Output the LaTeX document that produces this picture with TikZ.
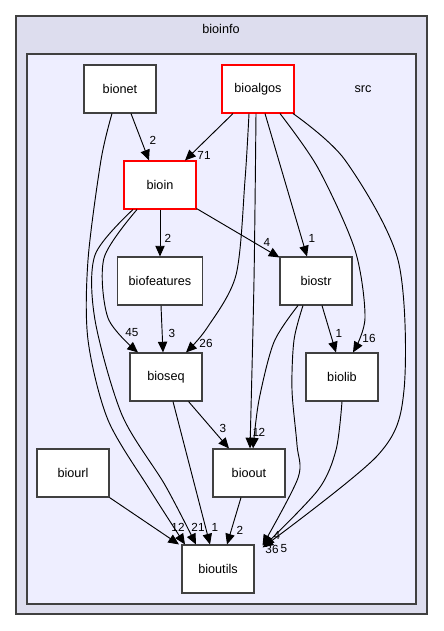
\documentclass[tikz,border=0pt]{standalone}
\usepackage{fontspec}
\setmainfont{Liberation Sans}
\usetikzlibrary{arrows.meta,calc}
\definecolor{outerfill}{HTML}{DDDDEE}
\definecolor{innerfill}{HTML}{EEEEFF}
\definecolor{frame}{HTML}{404040}
\begin{document}
\begin{tikzpicture}[x=0.75pt,y=-0.75pt,
  box/.style={draw=frame,fill=white,line width=0.8pt,minimum width=54pt,minimum height=36pt,inner sep=0pt,font=\fontsize{9.5}{11}\selectfont},
  redbox/.style={box,draw=red},
  edge/.style={line width=0.7pt,-{Triangle[length=8pt,width=7pt]}},
  lbl/.style={font=\fontsize{8.8}{10}\selectfont,inner sep=0pt}]
\useasboundingbox (0,0) rectangle (443,631);
\draw[frame,fill=outerfill,line width=0.9pt] (16,16) rectangle (427,614);
\draw[frame,fill=innerfill,line width=0.9pt] (27,54) rectangle (416,604);
\node[font=\fontsize{9.5}{11}\selectfont] (tbioinfo) at (221,29) {bioinfo};
\node[font=\fontsize{9.5}{11}\selectfont] (tsrc) at (363,89) {src};
% nodes
\node[box] (bionet) at (120,89) {bionet};
\node[redbox] (bioalgos) at (258,89) {bioalgos};
\node[redbox] (bioin) at (160,185) {bioin};
\node[box,minimum width=63.75pt] (biofeatures) at (160,281) {biofeatures};
\node[box] (biostr) at (316,281) {biostr};
\node[box] (bioseq) at (166,377) {bioseq};
\node[box] (biolib) at (342,377) {biolib};
\node[box] (biourl) at (73,473) {biourl};
\node[box] (bioout) at (249,473) {bioout};
\node[box] (bioutils) at (218,569) {bioutils};
% edges
\draw[edge] ($(bionet.south)+(11,0)$) -- ($(bioin.north)+(-11,0)$);
\node[lbl] (l1) at (153,140) {2};
\draw[edge] plot[smooth] coordinates {($(bionet.south)+(-8,0)$) (101,160) (88,260) (88,340) (108,420) (150,490) ($(bioutils.north)+(-33,0)$)};
\draw[edge] ($(bioalgos.south)+(-25,0)$) -- ($(bioin.north)+(25,0)$);
\node[lbl] (l3) at (204,155) {71};
\draw[edge] plot[smooth] coordinates {($(bioalgos.south)+(-9,0)$) (245,180) (236,275) (207,328) ($(bioseq.north)+(20,0)$)};
\node[lbl] (l4) at (206,343) {26};
\draw[edge] plot[smooth] coordinates {($(bioalgos.south)+(-2,0)$) (254,280) ($(bioout.north)+(1,0)$)};
\node[lbl] (l5) at (256,432) {1};
\draw[edge] ($(bioalgos.south)+(7,0)$) -- ($(biostr.north)+(-9,0)$);
\node[lbl] (l6) at (312,238) {1};
\draw[edge] plot[smooth] coordinates {($(bioalgos.south)+(22,0)$) (318,168) (355,250) (365,318) ($(biolib.north)+(11,0)$)};
\node[lbl] (l7) at (369,338) {16};
\draw[edge] plot[smooth] coordinates {($(bioalgos.south)+(35,0)$) (345,160) (398,260) (404,390) (378,455) ($(bioutils.north east)+(8,3)$)};
\draw[edge] (bioin.south) -- (biofeatures.north);
\node[lbl] (l9) at (168,238) {2};
\draw[edge] ($(bioin.south east)+(0,-1)$) -- ($(biostr.north west)+(0,1)$);
\node[lbl] (l10) at (267,242) {4};
\draw[edge] plot[smooth] coordinates {($(bioin.south)+(-23,0)$) (104,258) (108,318) ($(bioseq.north)+(-28,0)$)};
\node[lbl] (l11) at (132,333) {45};
\draw[edge] plot[smooth] coordinates {($(bioin.south)+(-27,0)$) (95,255) (95,320) (122,415) (165,485) ($(bioutils.north)+(-22,0)$)};
\node[lbl] (l12) at (198,527) {21};
\draw[edge] ($(biofeatures.south)+(1,0)$) -- ($(bioseq.north)+(-3,0)$);
\node[lbl] (l13) at (172,333) {3};
\draw[edge] ($(biostr.south)+(6,0)$) -- ($(biolib.north)+(-6,0)$);
\node[lbl] (l14) at (339,333) {1};
\draw[edge] plot[smooth] coordinates {($(biostr.south)+(-18,0)$) (274,342) (259,400) ($(bioout.north)+(4,0)$)};
\node[lbl] (l15) at (262,432) {2};
\draw[edge] plot[smooth] coordinates {($(biostr.south)+(-13,0)$) (294,340) (292,390) (297,445) (298,478) ($(bioutils.north east)+(8,1)$)};
\node[lbl] (l16) at (277,535) {4};
\draw[edge] plot[smooth] coordinates {(biolib.south) (336,450) (318,490) ($(bioutils.north east)+(9,2)$)};
\node[lbl] (l17) at (272,549) {36};
\node[lbl] (l8) at (284,549) {5};
\draw[edge] ($(bioseq.south east)+(-14,0)$) -- ($(bioout.north)+(-20,0)$);
\node[lbl] (l18) at (223,428) {3};
\draw[edge] ($(bioseq.south)+(7,0)$) -- ($(bioutils.north)+(-8,0)$);
\node[lbl] (l19) at (215,527) {1};
\draw[edge] ($(bioout.south)+(-8,0)$) -- ($(bioutils.north)+(9,0)$);
\node[lbl] (l20) at (240,530) {2};
\draw[edge] (biourl.south east) -- ($(bioutils.north)+(-39,0)$);
\node[lbl] (l21) at (178,527) {12};
\end{tikzpicture}
\end{document}
